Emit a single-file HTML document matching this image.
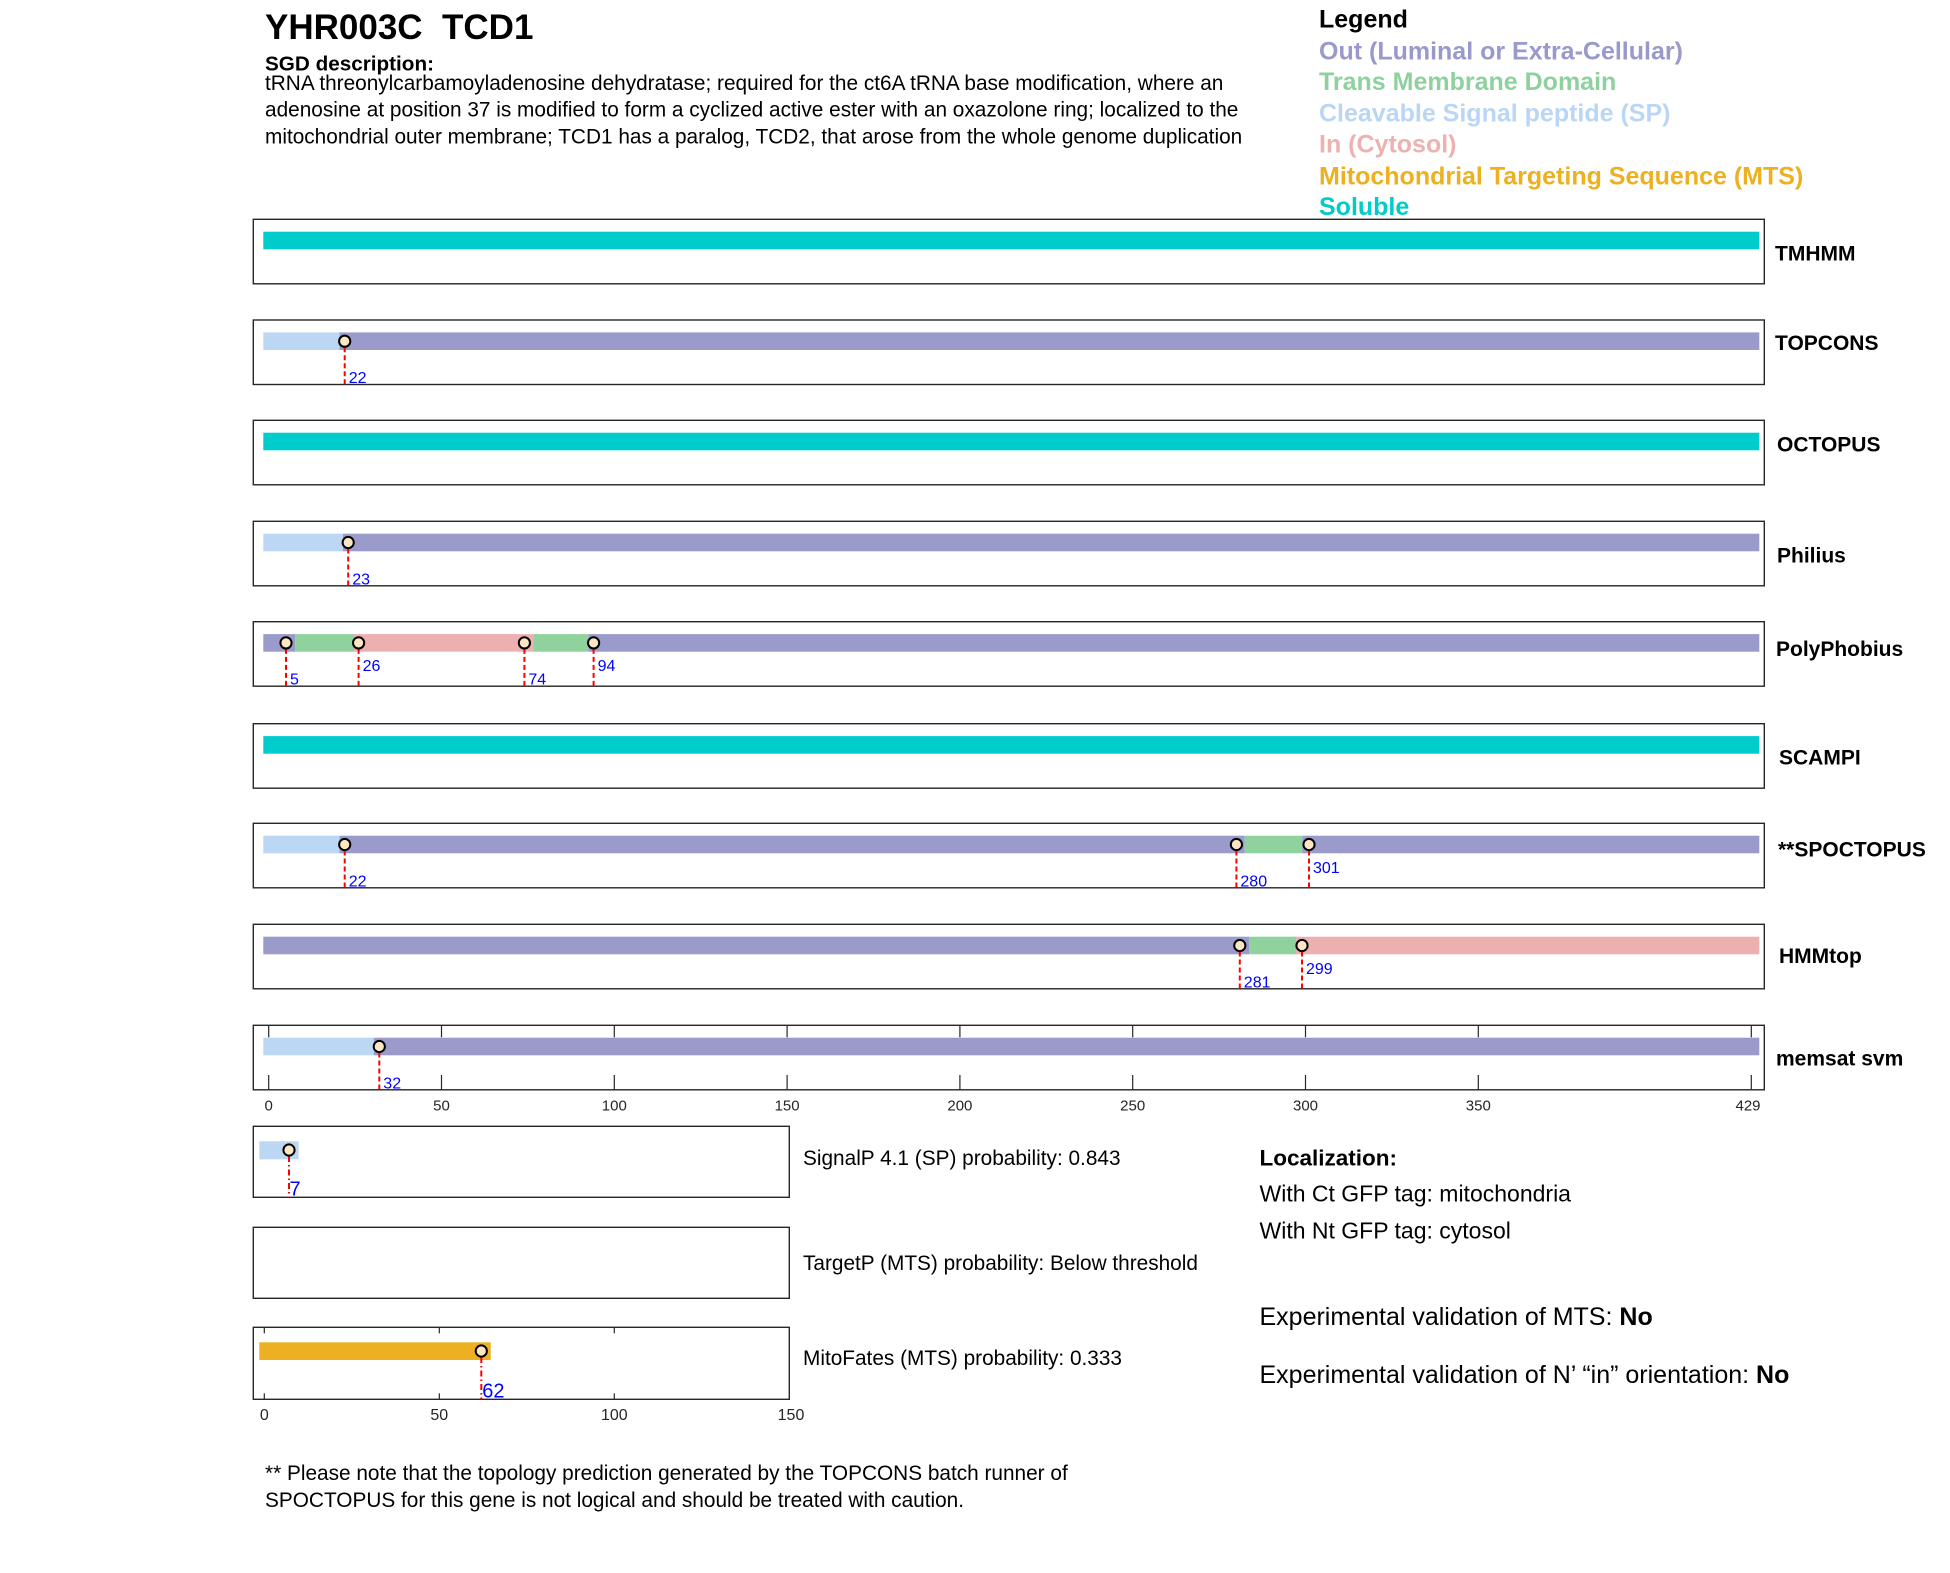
<!DOCTYPE html>
<html>
<head>
<meta charset="utf-8">
<style>
  html, body { margin: 0; padding: 0; background: #fff; }
  svg { display: block; }
  text { font-family: "Liberation Sans", Arial, sans-serif; }
</style>
</head>
<body>
<svg width="1950" height="1573" viewBox="0 0 1950 1573" xmlns="http://www.w3.org/2000/svg">
  <rect width="1950" height="1573" fill="#ffffff"/>

  <!-- Header -->
  <text x="265" y="39" font-size="35" font-weight="bold" fill="#000" style="white-space:pre">YHR003C  TCD1</text>
  <text x="265" y="70.5" font-size="20.7" font-weight="bold" fill="#000">SGD description:</text>
  <text x="265" y="90" font-size="20.8" fill="#000">tRNA threonylcarbamoyladenosine dehydratase; required for the ct6A tRNA base modification, where an</text>
  <text x="265" y="116.5" font-size="20.8" fill="#000">adenosine at position 37 is modified to form a cyclized active ester with an oxazolone ring; localized to the</text>
  <text x="265" y="143.5" font-size="20.8" fill="#000">mitochondrial outer membrane; TCD1 has a paralog, TCD2, that arose from the whole genome duplication</text>

  <!-- Legend -->
  <g font-size="25" font-weight="bold">
    <text x="1319" y="27.3" fill="#000">Legend</text>
    <text x="1319" y="59.3" fill="#9999cc">Out (Luminal or Extra-Cellular)</text>
    <text x="1319" y="90" fill="#8fd19e">Trans Membrane Domain</text>
    <text x="1319" y="121.7" fill="#bad6f5">Cleavable Signal peptide (SP)</text>
    <text x="1319" y="152.7" fill="#eeb1b1">In (Cytosol)</text>
    <text x="1319" y="184.3" fill="#edb120">Mitochondrial Targeting Sequence (MTS)</text>
    <text x="1319" y="215" fill="#00cccc">Soluble</text>
  </g>

  <!-- ===== Big panels ===== -->
  <!-- Row 1 TMHMM -->
  <rect x="263.3" y="231.7" width="1496" height="17.6" fill="#00cccc"/>
  <rect x="253.3" y="219.3" width="1511" height="64.5" fill="none" stroke="#262626" stroke-width="1.4"/>

  <!-- Row 2 TOPCONS -->
  <rect x="263.3" y="332.4" width="76.2" height="17.6" fill="#bbd7f3"/>
  <rect x="339.5" y="332.4" width="1419.8" height="17.6" fill="#9a9bcb"/>
  <rect x="253.3" y="320" width="1511" height="64.5" fill="none" stroke="#262626" stroke-width="1.4"/>

  <!-- Row 3 OCTOPUS -->
  <rect x="263.3" y="432.7" width="1496" height="17.6" fill="#00cccc"/>
  <rect x="253.3" y="420.3" width="1511" height="64.5" fill="none" stroke="#262626" stroke-width="1.4"/>

  <!-- Row 4 Philius -->
  <rect x="263.3" y="533.7" width="79.6" height="17.6" fill="#bbd7f3"/>
  <rect x="342.9" y="533.7" width="1416.4" height="17.6" fill="#9a9bcb"/>
  <rect x="253.3" y="521.3" width="1511" height="64.5" fill="none" stroke="#262626" stroke-width="1.4"/>

  <!-- Row 5 PolyPhobius -->
  <rect x="263.3" y="634.1" width="32" height="17.6" fill="#9a9bcb"/>
  <rect x="295.3" y="634.1" width="58.7" height="17.6" fill="#8fd29d"/>
  <rect x="354" y="634.1" width="179.3" height="17.6" fill="#edb0b0"/>
  <rect x="533.3" y="634.1" width="55" height="17.6" fill="#8fd29d"/>
  <rect x="588.3" y="634.1" width="1171" height="17.6" fill="#9a9bcb"/>
  <rect x="253.3" y="621.7" width="1511" height="64.5" fill="none" stroke="#262626" stroke-width="1.4"/>

  <!-- Row 6 SCAMPI -->
  <rect x="263.3" y="736.1" width="1496" height="17.6" fill="#00cccc"/>
  <rect x="253.3" y="723.7" width="1511" height="64.5" fill="none" stroke="#262626" stroke-width="1.4"/>

  <!-- Row 7 SPOCTOPUS -->
  <rect x="263.3" y="835.7" width="76.2" height="17.6" fill="#bbd7f3"/>
  <rect x="339.5" y="835.7" width="905.2" height="17.6" fill="#9a9bcb"/>
  <rect x="1244.7" y="835.7" width="57.6" height="17.6" fill="#8fd29d"/>
  <rect x="1302.3" y="835.7" width="457" height="17.6" fill="#9a9bcb"/>
  <rect x="253.3" y="823.3" width="1511" height="64.5" fill="none" stroke="#262626" stroke-width="1.4"/>

  <!-- Row 8 HMMtop -->
  <rect x="263.3" y="936.7" width="986" height="17.6" fill="#9a9bcb"/>
  <rect x="1249.3" y="936.7" width="46.7" height="17.6" fill="#8fd29d"/>
  <rect x="1296" y="936.7" width="463.3" height="17.6" fill="#edb0b0"/>
  <rect x="253.3" y="924.3" width="1511" height="64.5" fill="none" stroke="#262626" stroke-width="1.4"/>

  <!-- Row 9 memsat svm -->
  <rect x="263.3" y="1037.7" width="110.5" height="17.6" fill="#bbd7f3"/>
  <rect x="373.8" y="1037.7" width="1385.5" height="17.6" fill="#9a9bcb"/>
  <rect x="253.3" y="1025.3" width="1511" height="64.5" fill="none" stroke="#262626" stroke-width="1.4"/>
  <!-- memsat ticks -->
  <g stroke="#262626" stroke-width="1.2">
    <line x1="268.7" y1="1025.3" x2="268.7" y2="1037.3"/><line x1="268.7" y1="1075" x2="268.7" y2="1089.8"/>
    <line x1="441.5" y1="1025.3" x2="441.5" y2="1037.3"/><line x1="441.5" y1="1075" x2="441.5" y2="1089.8"/>
    <line x1="614.3" y1="1025.3" x2="614.3" y2="1037.3"/><line x1="614.3" y1="1075" x2="614.3" y2="1089.8"/>
    <line x1="787.1" y1="1025.3" x2="787.1" y2="1037.3"/><line x1="787.1" y1="1075" x2="787.1" y2="1089.8"/>
    <line x1="959.9" y1="1025.3" x2="959.9" y2="1037.3"/><line x1="959.9" y1="1075" x2="959.9" y2="1089.8"/>
    <line x1="1132.7" y1="1025.3" x2="1132.7" y2="1037.3"/><line x1="1132.7" y1="1075" x2="1132.7" y2="1089.8"/>
    <line x1="1305.5" y1="1025.3" x2="1305.5" y2="1037.3"/><line x1="1305.5" y1="1075" x2="1305.5" y2="1089.8"/>
    <line x1="1478.3" y1="1025.3" x2="1478.3" y2="1037.3"/><line x1="1478.3" y1="1075" x2="1478.3" y2="1089.8"/>
    <line x1="1751.3" y1="1025.3" x2="1751.3" y2="1037.3"/><line x1="1751.3" y1="1075" x2="1751.3" y2="1089.8"/>
  </g>
  <g font-size="15" fill="#262626" text-anchor="middle">
    <text x="268.7" y="1110.7">0</text>
    <text x="441.5" y="1110.7">50</text>
    <text x="614.3" y="1110.7">100</text>
    <text x="787.1" y="1110.7">150</text>
    <text x="959.9" y="1110.7">200</text>
    <text x="1132.7" y="1110.7">250</text>
    <text x="1305.5" y="1110.7">300</text>
    <text x="1478.3" y="1110.7">350</text>
    <text x="1748" y="1110.7">429</text>
  </g>

  <!-- Red dashed lines (big panels) -->
  <g stroke="#ff0000" stroke-width="2" stroke-dasharray="5 3" fill="none">
    <line x1="344.7" y1="347.2" x2="344.7" y2="384.5"/>
    <line x1="348.2" y1="548.5" x2="348.2" y2="585.8"/>
    <line x1="286" y1="648.9" x2="286" y2="686.2"/>
    <line x1="358.6" y1="648.9" x2="358.6" y2="686.2"/>
    <line x1="524.4" y1="648.9" x2="524.4" y2="686.2"/>
    <line x1="593.6" y1="648.9" x2="593.6" y2="686.2"/>
    <line x1="344.7" y1="850.5" x2="344.7" y2="887.8"/>
    <line x1="1236.4" y1="850.5" x2="1236.4" y2="887.8"/>
    <line x1="1309" y1="850.5" x2="1309" y2="887.8"/>
    <line x1="1239.8" y1="951.5" x2="1239.8" y2="988.8"/>
    <line x1="1302" y1="951.5" x2="1302" y2="988.8"/>
    <line x1="379.3" y1="1052.5" x2="379.3" y2="1089.8"/>
  </g>

  <!-- Markers (big panels) -->
  <g fill="#fce6c4" stroke="#000" stroke-width="2">
    <circle cx="344.7" cy="341.2" r="5.6"/>
    <circle cx="348.2" cy="542.5" r="5.6"/>
    <circle cx="286" cy="642.9" r="5.6"/>
    <circle cx="358.6" cy="642.9" r="5.6"/>
    <circle cx="524.4" cy="642.9" r="5.6"/>
    <circle cx="593.6" cy="642.9" r="5.6"/>
    <circle cx="344.7" cy="844.5" r="5.6"/>
    <circle cx="1236.4" cy="844.5" r="5.6"/>
    <circle cx="1309" cy="844.5" r="5.6"/>
    <circle cx="1239.8" cy="945.5" r="5.6"/>
    <circle cx="1302" cy="945.5" r="5.6"/>
    <circle cx="379.3" cy="1046.5" r="5.6"/>
  </g>

  <!-- Marker labels (big panels) -->
  <g font-size="16" fill="#0000ff">
    <text x="348.7" y="383">22</text>
    <text x="352.2" y="584.3">23</text>
    <text x="290" y="684.7">5</text>
    <text x="362.6" y="671.2">26</text>
    <text x="528.4" y="684.7">74</text>
    <text x="597.6" y="671.2">94</text>
    <text x="348.7" y="886.3">22</text>
    <text x="1240.4" y="886.3">280</text>
    <text x="1313" y="872.8">301</text>
    <text x="1243.8" y="987.3">281</text>
    <text x="1306" y="973.8">299</text>
    <text x="383.3" y="1088.3">32</text>
  </g>

  <!-- Right labels -->
  <g font-size="21" font-weight="bold" fill="#000">
    <text x="1775" y="260.5">TMHMM</text>
    <text x="1775" y="350">TOPCONS</text>
    <text x="1777" y="451.5">OCTOPUS</text>
    <text x="1777" y="562.5">Philius</text>
    <text x="1776" y="656">PolyPhobius</text>
    <text x="1779" y="764.5">SCAMPI</text>
    <text x="1778" y="856.5">**SPOCTOPUS</text>
    <text x="1779" y="963">HMMtop</text>
    <text x="1776" y="1065.7">memsat svm</text>
  </g>

  <!-- ===== Small panels ===== -->
  <!-- SignalP -->
  <rect x="259.3" y="1141.3" width="39.4" height="18" fill="#bbd7f3"/>
  <rect x="253.3" y="1126.3" width="536" height="71" fill="none" stroke="#262626" stroke-width="1.4"/>
  <line x1="289" y1="1156" x2="289" y2="1197.3" stroke="#ff0000" stroke-width="2" stroke-dasharray="6 3 1.5 3"/>
  <circle cx="289" cy="1150" r="5.6" fill="#fce6c4" stroke="#000" stroke-width="2"/>
  <text x="289.5" y="1195.7" font-size="20" fill="#0000ff">7</text>

  <!-- TargetP -->
  <rect x="253.3" y="1227.3" width="536" height="71" fill="none" stroke="#262626" stroke-width="1.4"/>

  <!-- MitoFates -->
  <rect x="259.3" y="1342.3" width="231.4" height="17.7" fill="#ecb022"/>
  <rect x="253.3" y="1327.3" width="536" height="72" fill="none" stroke="#262626" stroke-width="1.4"/>
  <g stroke="#262626" stroke-width="1.2">
    <line x1="264.3" y1="1327.3" x2="264.3" y2="1333.3"/><line x1="264.3" y1="1393.3" x2="264.3" y2="1399.3"/>
    <line x1="439.3" y1="1327.3" x2="439.3" y2="1333.3"/><line x1="439.3" y1="1393.3" x2="439.3" y2="1399.3"/>
    <line x1="614.3" y1="1327.3" x2="614.3" y2="1333.3"/><line x1="614.3" y1="1393.3" x2="614.3" y2="1399.3"/>
  </g>
  <line x1="481.3" y1="1357" x2="481.3" y2="1399.3" stroke="#ff0000" stroke-width="2" stroke-dasharray="6 3 1.5 3"/>
  <circle cx="481.3" cy="1351" r="5.6" fill="#fce6c4" stroke="#000" stroke-width="2"/>
  <text x="482.3" y="1397.3" font-size="20" fill="#0000ff">62</text>
  <g font-size="16" fill="#262626" text-anchor="middle">
    <text x="264.3" y="1420">0</text>
    <text x="439.3" y="1420">50</text>
    <text x="614.3" y="1420">100</text>
    <text x="791" y="1420">150</text>
  </g>

  <!-- Small panel captions -->
  <g font-size="20.8" fill="#000">
    <text x="803" y="1165">SignalP 4.1 (SP) probability: 0.843</text>
    <text x="803" y="1270">TargetP (MTS) probability: Below threshold</text>
    <text x="803" y="1365">MitoFates (MTS) probability: 0.333</text>
  </g>

  <!-- Localization -->
  <text x="1259.5" y="1165.7" font-size="22.5" font-weight="bold" fill="#000">Localization:</text>
  <text x="1259.5" y="1201.7" font-size="23" fill="#000">With Ct GFP tag: mitochondria</text>
  <text x="1259.5" y="1238.3" font-size="23" fill="#000">With Nt GFP tag: cytosol</text>
  <text x="1259.5" y="1325" font-size="25" fill="#000">Experimental validation of MTS: <tspan font-weight="bold">No</tspan></text>
  <text x="1259.5" y="1383" font-size="25" fill="#000">Experimental validation of N’ “in” orientation: <tspan font-weight="bold">No</tspan></text>

  <!-- Footnote -->
  <text x="265" y="1480" font-size="20.8" fill="#000">** Please note that the topology prediction generated by the TOPCONS batch runner of</text>
  <text x="265" y="1507" font-size="20.8" fill="#000">SPOCTOPUS for this gene is not logical and should be treated with caution.</text>
</svg>
</body>
</html>
